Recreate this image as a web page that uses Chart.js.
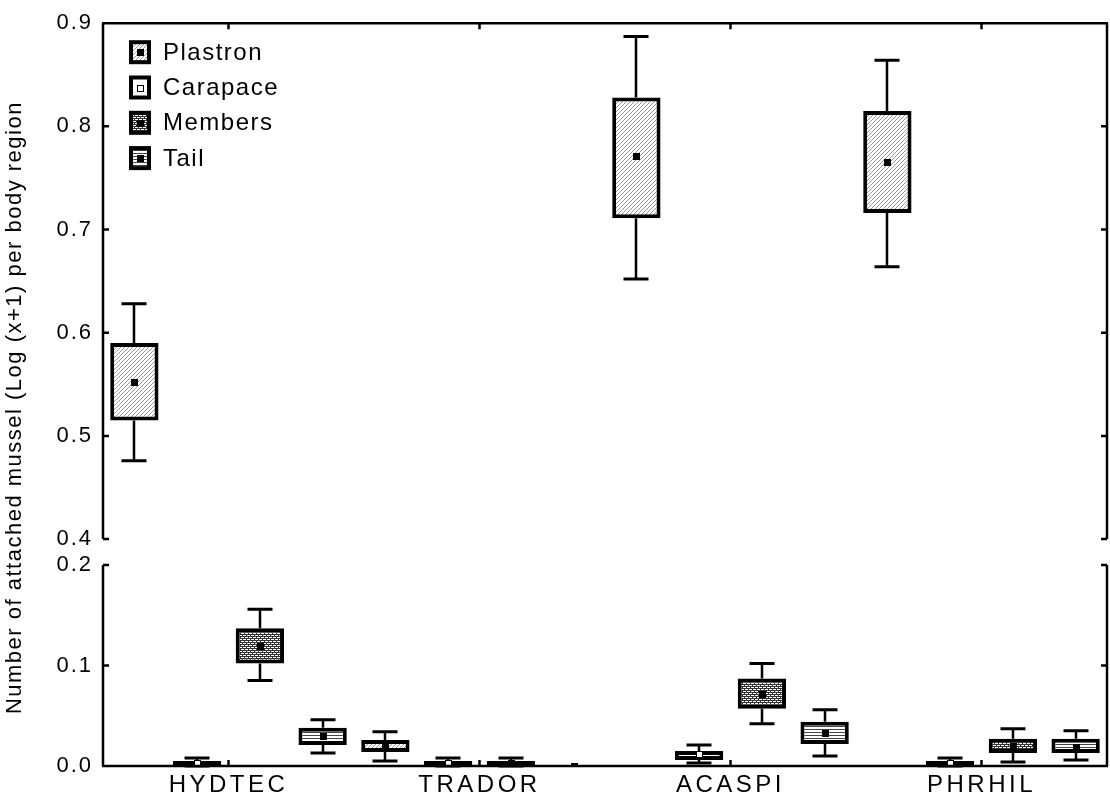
<!DOCTYPE html>
<html>
<head>
<meta charset="utf-8">
<script src="https://cdn.jsdelivr.net/npm/chart.js@4.4.1/dist/chart.umd.min.js"></script>
<style>
  html, body { margin: 0; padding: 0; background: #fff; }
  #wrap { width: 1110px; height: 803px; position: relative; }
</style>
</head>
<body>
<div id="wrap"><canvas id="chart-canvas"></canvas></div>
<script>
const chart = document.getElementById("chart-canvas");

const categories = ["HYDTEC", "TRADOR", "ACASPI", "PHRHIL"];
const regions = ["Plastron", "Carapace", "Members", "Tail"];

// mean, box and whisker limits per body region (one value per species)
const plastronMean = [0.552, 0.019, 0.771, 0.765];
const plastronBoxLo = [0.515, 0.014, 0.711, 0.716];
const plastronBoxHi = [0.590, 0.026, 0.828, 0.815];
const plastronWhLo = [0.476, 0.005, 0.652, 0.664];
const plastronWhHi = [0.628, 0.034, 0.887, 0.864];

const carapaceMean = [0.003, 0.003, 0.012, 0.003];
const carapaceBoxLo = [0.0, 0.0, 0.006, 0.0];
const carapaceBoxHi = [0.005, 0.005, 0.015, 0.005];
const carapaceWhLo = [0.0, 0.0, 0.003, 0.0];
const carapaceWhHi = [0.008, 0.008, 0.021, 0.008];

const membersMean = [0.119, 0.003, 0.072, 0.020];
const membersBoxLo = [0.102, 0.0, 0.057, 0.013];
const membersBoxHi = [0.137, 0.005, 0.087, 0.027];
const membersWhLo = [0.085, 0.0, 0.042, 0.004];
const membersWhHi = [0.156, 0.008, 0.102, 0.037];

const tailMean = [0.030, 0.0, 0.033, 0.019];
const tailBoxLo = [0.021, 0.0, 0.022, 0.013];
const tailBoxHi = [0.038, 0.0, 0.044, 0.027];
const tailWhLo = [0.013, 0.0, 0.010, 0.006];
const tailWhHi = [0.046, 0.0, 0.056, 0.035];

const upperTicks = [0.4, 0.5, 0.6, 0.7, 0.8, 0.9];
const lowerTicks = [0.0, 0.1, 0.2];
const breakAt = 0.3;
const yTitle = "Number of attached mussel (Log (x+1) per body region";
// ======================

const FONT = "'Liberation Sans', Arial, sans-serif";

function makeTile(w, h, paint) {
  const c = document.createElement("canvas");
  c.width = w;
  c.height = h;
  const g = c.getContext("2d");
  g.fillStyle = "#fff";
  g.fillRect(0, 0, w, h);
  for (let y = 0; y < h; y++) {
    for (let x = 0; x < w; x++) {
      const col = paint(x, y);
      if (col) {
        g.fillStyle = col;
        g.fillRect(x, y, 1, 1);
      }
    }
  }
  return g.createPattern(c, "repeat");
}

const hatchFill = makeTile(4, 4, (x, y) => (x + y) % 4 === 3 ? "#999" : null);
const dotFill = makeTile(4, 4, (x, y) =>
  (y === 0 || y === 2 || (y === 1 && x === 0) || (y === 3 && x === 2)) ? "#333" : null);
const lineFill = makeTile(1, 3, (x, y) => y === 0 ? "#444" : null);

const series = [
  { name: regions[0], fill: hatchFill, hollow: false, mean: plastronMean, lo: plastronBoxLo, hi: plastronBoxHi, wLo: plastronWhLo, wHi: plastronWhHi },
  { name: regions[1], fill: "#fff", hollow: true, mean: carapaceMean, lo: carapaceBoxLo, hi: carapaceBoxHi, wLo: carapaceWhLo, wHi: carapaceWhHi },
  { name: regions[2], fill: dotFill, hollow: false, mean: membersMean, lo: membersBoxLo, hi: membersBoxHi, wLo: membersWhLo, wHi: membersWhHi },
  { name: regions[3], fill: lineFill, hollow: false, mean: tailMean, lo: tailBoxLo, hi: tailBoxHi, wLo: tailWhLo, wHi: tailWhHi }
];

// each region gets one dataset per panel, sharing a stack so they use the same slot
const datasets = [];
series.forEach((s) => {
  ["yTop", "yBot"].forEach((axis) => {
    const upper = axis === "yTop";
    datasets.push({
      label: s.name,
      stack: s.name,
      yAxisID: axis,
      data: categories.map((c, i) => ((s.mean[i] >= breakAt) === upper ? [s.lo[i], s.hi[i]] : null)),
      backgroundColor: s.fill,
      borderColor: "#000",
      borderWidth: 4,
      borderSkipped: false,
      barPercentage: 0.77,
      categoryPercentage: 1,
      series: s
    });
  });
});

function meanMarker(ctx, x, y, hollow) {
  x = Math.round(x);
  y = Math.round(y);
  ctx.fillStyle = "#000";
  ctx.fillRect(x - 3, y - 3, 7, 7);
  if (hollow) {
    ctx.fillStyle = "#fff";
    ctx.fillRect(x - 2, y - 2, 5, 5);
  }
}

const boxPlot = {
  id: "boxPlot",
  beforeDraw(c) {
    c.ctx.letterSpacing = "2px";
  },
  beforeDatasetsDraw(c) {
    const ctx = c.ctx;
    ctx.save();
    ctx.strokeStyle = "#000";
    c.data.datasets.forEach((ds, di) => {
      const meta = c.getDatasetMeta(di);
      const scale = c.scales[ds.yAxisID];
      const s = ds.series;
      meta.data.forEach((bar, i) => {
        if (ds.data[i] === null || s.wHi[i] === s.wLo[i]) return;
        const x = Math.round(bar.x);
        const pHi = scale.getPixelForValue(s.wHi[i]);
        const pLo = scale.getPixelForValue(s.wLo[i]);
        const bHi = scale.getPixelForValue(s.hi[i]);
        const bLo = scale.getPixelForValue(s.lo[i]);
        ctx.lineWidth = 2.5;
        ctx.beginPath();
        ctx.moveTo(x, pHi);
        ctx.lineTo(x, bHi);
        ctx.moveTo(x, bLo);
        ctx.lineTo(x, pLo);
        ctx.stroke();
        ctx.lineWidth = 3;
        ctx.beginPath();
        ctx.moveTo(x - 12.5, pHi);
        ctx.lineTo(x + 12.5, pHi);
        ctx.moveTo(x - 12.5, pLo);
        ctx.lineTo(x + 12.5, pLo);
        ctx.stroke();
      });
    });
    ctx.restore();
    // category labels (ticks.z > 0) come after the datasets, with wider tracking
    ctx.letterSpacing = "3.5px";
  },
  afterDatasetsDraw(c) {
    const ctx = c.ctx;
    const a = c.chartArea;
    ctx.save();
    ctx.beginPath();
    ctx.rect(a.left, a.top, a.right - a.left, a.bottom - a.top);
    ctx.clip();
    c.data.datasets.forEach((ds, di) => {
      const meta = c.getDatasetMeta(di);
      const scale = c.scales[ds.yAxisID];
      meta.data.forEach((bar, i) => {
        if (ds.data[i] === null) return;
        meanMarker(ctx, bar.x, scale.getPixelForValue(ds.series.mean[i]), ds.series.hollow);
      });
    });
    ctx.restore();
  },
  afterDraw(c) {
    const ctx = c.ctx;
    const a = c.chartArea;
    const top = c.scales.yTop;
    const bot = c.scales.yBot;
    const x = c.scales.x;
    ctx.save();
    ctx.letterSpacing = "0px";
    ctx.strokeStyle = "#000";
    ctx.lineWidth = 2.5;
    ctx.beginPath();
    // broken left and right axes
    [a.left, a.right].forEach((px) => {
      ctx.moveTo(px, top.top);
      ctx.lineTo(px, top.bottom);
      ctx.moveTo(px, bot.top);
      ctx.lineTo(px, bot.bottom);
    });
    ctx.moveTo(a.left - 1, a.top);
    ctx.lineTo(a.right + 1, a.top);
    ctx.moveTo(a.left - 1, a.bottom);
    ctx.lineTo(a.right + 1, a.bottom);
    // inward tick marks
    [[top, upperTicks], [bot, lowerTicks]].forEach(([sc, vals]) => {
      vals.forEach((v) => {
        const py = sc.getPixelForValue(v);
        ctx.moveTo(a.left, py);
        ctx.lineTo(a.left + 6, py);
        ctx.moveTo(a.right, py);
        ctx.lineTo(a.right - 6, py);
      });
    });
    categories.forEach((cat, i) => {
      const px = x.getPixelForValue(i);
      ctx.moveTo(px, a.top);
      ctx.lineTo(px, a.top + 6);
      ctx.moveTo(px, a.bottom);
      ctx.lineTo(px, a.bottom - 6);
    });
    ctx.stroke();

    // legend
    ctx.font = "24px " + FONT;
    ctx.letterSpacing = "1.5px";
    ctx.textBaseline = "middle";
    ctx.textAlign = "left";
    series.forEach((s, i) => {
      const cy = a.top + 29 + i * 35.3;
      const bx = a.left + 26;
      ctx.fillStyle = "#000";
      ctx.fillRect(bx, cy - 12, 22, 24);
      ctx.fillStyle = s.fill;
      ctx.fillRect(bx + 4, cy - 8, 14, 16);
      meanMarker(ctx, bx + 11, cy, s.hollow);
      ctx.fillStyle = "#000";
      ctx.fillText(s.name, a.left + 60, cy + 1);
    });

    // y axis title
    ctx.font = "22px " + FONT;
    ctx.letterSpacing = "1.5px";
    ctx.textAlign = "center";
    ctx.translate(15, (a.top + a.bottom) / 2 + 13);
    ctx.rotate(-Math.PI / 2);
    ctx.fillText(yTitle, 0, 0);
    ctx.restore();
  }
};

function fixedWidth(scale) {
  scale.width = 103;
}

const options = {
  animation: false,
  responsive: true,
  maintainAspectRatio: false,
  layout: { padding: { left: 0, right: 3, top: 23, bottom: 0 } },
  plugins: { legend: { display: false }, tooltip: { enabled: false } },
  scales: {
    x: {
      type: "category",
      labels: categories,
      offset: true,
      grid: { display: false, drawTicks: false },
      border: { display: false },
      ticks: { z: 1, color: "#000", padding: 5, font: { family: FONT, size: 24 } },
      afterFit: (scale) => { scale.height = 37; }
    },
    yTop: {
      type: "linear",
      position: "left",
      stack: "y",
      stackWeight: 516,
      weight: 2,
      stacked: false,
      min: 0.4,
      max: 0.9,
      grid: { display: false, drawTicks: false },
      border: { display: false },
      afterBuildTicks: (scale) => { scale.ticks = upperTicks.map((v) => ({ value: v })); },
      ticks: { color: "#000", padding: 10, font: { family: FONT, size: 22 }, callback: (v) => Number(v).toFixed(1) },
      afterFit: fixedWidth
    },
    yGap: {
      type: "linear",
      position: "left",
      stack: "y",
      stackWeight: 26,
      weight: 1,
      grid: { display: false, drawTicks: false },
      border: { display: false },
      ticks: { display: false },
      afterFit: fixedWidth
    },
    yBot: {
      type: "linear",
      position: "left",
      stack: "y",
      stackWeight: 201,
      weight: 0,
      stacked: false,
      min: 0,
      max: 0.2,
      grid: { display: false, drawTicks: false },
      border: { display: false },
      afterBuildTicks: (scale) => { scale.ticks = lowerTicks.map((v) => ({ value: v })); },
      ticks: { color: "#000", padding: 10, font: { family: FONT, size: 22 }, callback: (v) => Number(v).toFixed(1) },
      afterFit: fixedWidth
    }
  }
};

const config = {
  type: "bar",
  data: { labels: categories, datasets: datasets },
  options: options,
  plugins: [boxPlot]
};

new Chart(chart, config);
</script>
</body>
</html>
